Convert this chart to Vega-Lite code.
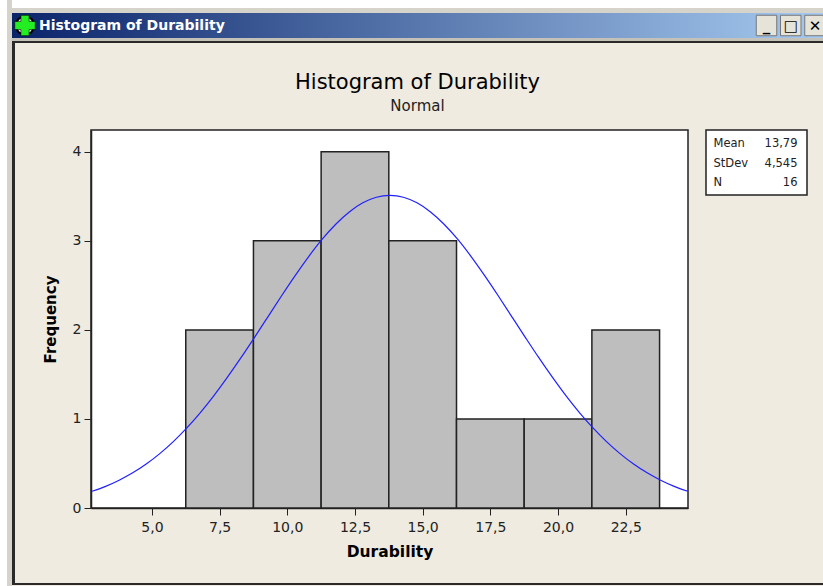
{"$schema":"https://vega.github.io/schema/vega-lite/v6.json","background":"#EFEBE0","padding":0,"spacing":0,"bounds":"flush","config":{"view":{"stroke":null},"font":"DejaVu Sans"},"hconcat":[{"width":7,"height":586,"data":{"values":[{"part":"outer"}]},"mark":{"type":"rect","fill":"#FFFFFF"},"encoding":{}},{"width":5,"height":586,"data":{"values":[{"part":"frame"}]},"mark":{"type":"rect","fill":"#D6D3CB"},"encoding":{}},{"spacing":0,"bounds":"full","vconcat":[{"width":811,"height":8,"data":{"values":[{"part":"outer"}]},"mark":{"type":"rect","fill":"#FFFFFF"},"encoding":{}},{"width":811,"height":5,"data":{"values":[{"part":"frame"}]},"mark":{"type":"rect","fill":"#D6D3CB"},"encoding":{}},{"width":811,"height":25,"resolve":{"scale":{"x":"independent"}},"layer":[{"data":{"values":[{"part":"titlebar"}]},"mark":{"type":"rect","fill":{"gradient":"linear","x1":0,"y1":0,"x2":1,"y2":0,"stops":[{"offset":0,"color":"#0A246A"},{"offset":1,"color":"#A6CAF0"}]}},"encoding":{}},{"data":{"values":[{"icon":"app"}]},"layer":[{"mark":{"type":"point","shape":"circle","filled":true,"size":420,"color":"#000000","opacity":1},"encoding":{"x":{"field":"icon","type":"nominal","axis":null,"scale":{"type":"point","domain":["app"],"padding":0,"range":[13,13]}}}},{"mark":{"type":"point","shape":"circle","filled":true,"size":260,"color":"#F2F2F2","opacity":1},"encoding":{"x":{"field":"icon","type":"nominal","axis":null,"scale":{"type":"point","domain":["app"],"padding":0,"range":[13,13]}}}},{"mark":{"type":"point","shape":"cross","filled":true,"size":420,"color":"#22EE22","stroke":"#000000","strokeWidth":0.6,"opacity":1},"encoding":{"x":{"field":"icon","type":"nominal","axis":null,"scale":{"type":"point","domain":["app"],"padding":0,"range":[13,13]}}}}]},{"data":{"values":[{"window":"Histogram of Durability"}]},"mark":{"type":"text","color":"#FFFFFF","fontWeight":"bold","fontSize":14,"align":"left","dx":-378.5},"encoding":{"text":{"field":"window"}}},{"data":{"values":[{"button":"minimize","symbol":"_"},{"button":"maximize","symbol":"□"},{"button":"close","symbol":"✕"}]},"layer":[{"mark":{"type":"point","shape":"square","filled":true,"size":420,"color":"#E6E3D8","stroke":"#777777","strokeWidth":1,"opacity":1},"encoding":{"x":{"field":"button","type":"nominal","sort":null,"axis":null,"scale":{"type":"point","domain":["minimize","maximize","close"],"padding":0,"range":[754.5,803]}}}},{"mark":{"type":"text","color":"#000000","fontWeight":"bold","fontSize":15},"encoding":{"text":{"field":"symbol"},"x":{"field":"button","type":"nominal","sort":null,"axis":null,"scale":{"type":"point","domain":["minimize","maximize","close"],"padding":0,"range":[754.5,803]}}}}]}]},{"width":811,"height":3,"data":{"values":[{"part":"frame"}]},"mark":{"type":"rect","fill":"#C4C1B8"},"encoding":{}},{"width":811,"height":2,"data":{"values":[{"part":"frame"}]},"mark":{"type":"rect","fill":"#2A2A2A"},"encoding":{}},{"spacing":76,"bounds":"flush","hconcat":[{"width":3,"height":540,"data":{"values":[{"part":"frame"}]},"mark":{"type":"rect","fill":"#2A2A2A"},"encoding":{}},{"spacing":0,"bounds":"flush","vconcat":[{"width":597,"height":87,"data":{"values":[{"part":"heading"}]},"title":{"text":"Histogram of Durability","subtitle":"Normal","anchor":"middle","orient":"bottom","dx":28,"offset":-58,"fontSize":21,"fontWeight":"normal","color":"#000000","subtitleFontSize":15,"subtitleColor":"#222222","subtitlePadding":6},"mark":{"type":"rect","opacity":0},"encoding":{}},{"spacing":18,"bounds":"flush","hconcat":[{"width":597,"height":378,"view":{"fill":"#FFFFFF","stroke":"#222222","strokeWidth":1.5},"layer":[{"data":{"values":[{"bin_start":6.25,"bin_end":8.75,"frequency":2},{"bin_start":8.75,"bin_end":11.25,"frequency":3},{"bin_start":11.25,"bin_end":13.75,"frequency":4},{"bin_start":13.75,"bin_end":16.25,"frequency":3},{"bin_start":16.25,"bin_end":18.75,"frequency":1},{"bin_start":18.75,"bin_end":21.25,"frequency":1},{"bin_start":21.25,"bin_end":23.75,"frequency":2}]},"mark":{"type":"rect","fill":"#BEBEBE","stroke":"#222222","strokeWidth":1.5},"encoding":{"x":{"field":"bin_start","type":"quantitative","scale":{"domain":[2.75,24.8],"nice":false,"zero":false},"title":"Durability","axis":{"values":[5,7.5,10,12.5,15,17.5,20,22.5],"grid":false,"labelExpr":"replace(format(datum.value,'.1f'),'.',',')","tickSize":7,"tickColor":"#222222","domainColor":"#222222","domainWidth":1.5,"labelFontSize":14,"labelColor":"#222222","labelPadding":5,"titleFontSize":15.5,"titleFontWeight":"bold","titleColor":"#000000","titlePadding":10}},"x2":{"field":"bin_end"},"y":{"field":"frequency","type":"quantitative","scale":{"domain":[0,4.245],"nice":false},"title":"Frequency","axis":{"values":[0,1,2,3,4],"grid":false,"format":"d","tickSize":7,"tickColor":"#222222","domainColor":"#222222","domainWidth":1.5,"labelFontSize":14,"labelColor":"#222222","labelPadding":3,"titleFontSize":15,"titleFontWeight":"bold","titleColor":"#000000","titlePadding":14}}}},{"data":{"values":[{"d":2.79,"f":0.188},{"d":3.29,"f":0.243},{"d":3.79,"f":0.312},{"d":4.29,"f":0.395},{"d":4.79,"f":0.494},{"d":5.29,"f":0.611},{"d":5.79,"f":0.746},{"d":6.29,"f":0.9},{"d":6.79,"f":1.072},{"d":7.29,"f":1.262},{"d":7.79,"f":1.469},{"d":8.29,"f":1.688},{"d":8.79,"f":1.917},{"d":9.29,"f":2.15},{"d":9.79,"f":2.384},{"d":10.29,"f":2.61},{"d":10.79,"f":2.824},{"d":11.29,"f":3.019},{"d":11.79,"f":3.187},{"d":12.29,"f":3.325},{"d":12.79,"f":3.427},{"d":13.29,"f":3.49},{"d":13.79,"f":3.511},{"d":14.29,"f":3.49},{"d":14.79,"f":3.427},{"d":15.29,"f":3.325},{"d":15.79,"f":3.187},{"d":16.29,"f":3.019},{"d":16.79,"f":2.824},{"d":17.29,"f":2.61},{"d":17.79,"f":2.384},{"d":18.29,"f":2.15},{"d":18.79,"f":1.917},{"d":19.29,"f":1.688},{"d":19.79,"f":1.469},{"d":20.29,"f":1.262},{"d":20.79,"f":1.072},{"d":21.29,"f":0.9},{"d":21.79,"f":0.746},{"d":22.29,"f":0.611},{"d":22.79,"f":0.494},{"d":23.29,"f":0.395},{"d":23.79,"f":0.312},{"d":24.29,"f":0.243},{"d":24.79,"f":0.188}]},"mark":{"type":"line","color":"#2020FF","strokeWidth":1.2,"interpolate":"monotone"},"encoding":{"x":{"field":"d","type":"quantitative"},"y":{"field":"f","type":"quantitative"}}}]},{"width":101,"height":65,"view":{"fill":"#FFFFFF","stroke":"#222222","strokeWidth":1.5},"data":{"values":[{"stat":"Mean","value":"13,79"},{"stat":"StDev","value":"4,545"},{"stat":"N","value":"16"}]},"layer":[{"mark":{"type":"text","align":"left","dx":-43,"fontSize":11.5,"color":"#222222"},"encoding":{"text":{"field":"stat"},"y":{"field":"stat","type":"nominal","sort":null,"axis":null,"scale":{"type":"point","domain":["Mean","StDev","N"],"padding":0,"range":[14,53]}}}},{"mark":{"type":"text","align":"right","dx":41,"fontSize":11.5,"color":"#222222"},"encoding":{"text":{"field":"value"},"y":{"field":"stat","type":"nominal","sort":null,"axis":null,"scale":{"type":"point","domain":["Mean","StDev","N"],"padding":0,"range":[14,53]}}}}]}]}]}]},{"width":811,"height":2,"data":{"values":[{"part":"frame"}]},"mark":{"type":"rect","fill":"#2A2A2A"},"encoding":{}}]}]}
